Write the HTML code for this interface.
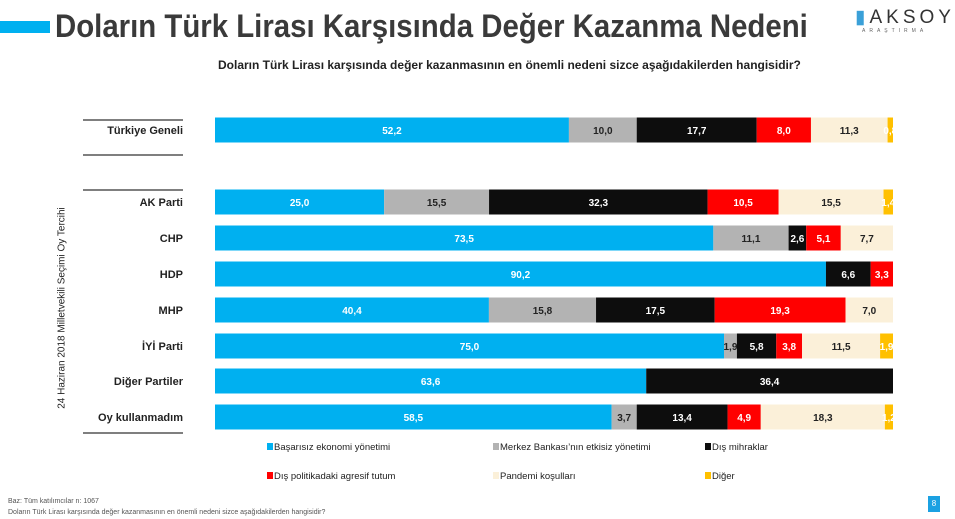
<!DOCTYPE html>
<html><head><meta charset="utf-8">
<style>
body{margin:0;width:955px;height:519px;background:#fff;position:relative;overflow:hidden;font-family:"Liberation Sans",sans-serif;}
.abs{position:absolute;}
</style></head>
<body>
<div class="abs" style="left:0;top:21px;width:50px;height:12px;background:#00b0f0"></div>
<div class="abs" id="ttl" style="left:55px;top:8px;font-size:32px;font-weight:bold;color:#3a3a3a;white-space:nowrap;transform-origin:left">Doların Türk Lirası Karşısında Değer Kazanma Nedeni</div>
<div class="abs" style="left:855px;top:6px;font-size:19px;color:#333;letter-spacing:4px"><span style="color:#3aa0d8">▮</span>AKSOY</div>
<div class="abs" style="left:862px;top:28px;font-size:5px;color:#666;letter-spacing:4px">ARAŞTIRMA</div>
<div class="abs" style="left:218px;top:58px;font-size:12px;font-weight:bold;color:#222">Doların Türk Lirası karşısında değer kazanmasının en önemli nedeni sizce aşağıdakilerden hangisidir?</div>
<div class="abs" style="left:62px;top:308px;font-size:10px;color:#222;transform:translate(-50%,-50%) rotate(-90deg);white-space:nowrap">24 Haziran 2018 Milletvekili Seçimi Oy Tercihi</div>
<svg class="abs" style="left:0;top:0" width="955" height="519" id="chart"></svg>
<div class="abs" style="left:8px;top:498px;font-size:7px;color:#555">Baz: Tüm katılımcılar n: 1067</div>
<div class="abs" style="left:8px;top:509px;font-size:7px;color:#555">Doların Türk Lirası karşısında değer kazanmasının en önemli nedeni sizce aşağıdakilerden hangisidir?</div>
<div class="abs" style="left:928px;top:496px;width:12px;height:16px;background:#1ba1e2;color:#fff;font-size:8px;text-align:center;line-height:16px">8</div>
<script>
const categories=["Türkiye Geneli","AK Parti","CHP","HDP","MHP","İYİ Parti","Diğer Partiler","Oy kullanmadım"];
const rowY=[130,202,238,274,310,346,381,417];
const seriesNames=["Başarısız ekonomi yönetimi","Merkez Bankası’nın etkisiz yönetimi","Dış mihraklar","Dış politikadaki agresif tutum","Pandemi koşulları","Diğer"];
const s1=[52.2,25.0,73.5,90.2,40.4,75.0,63.6,58.5];
const s2=[10.0,15.5,11.1,0,15.8,1.9,0,3.7];
const s3=[17.7,32.3,2.6,6.6,17.5,5.8,36.4,13.4];
const s4=[8.0,10.5,5.1,3.3,19.3,3.8,0,4.9];
const s5=[11.3,15.5,7.7,0,7.0,11.5,0,18.3];
const s6=[0.8,1.4,0,0,0,1.9,0,1.2];
const series=[s1,s2,s3,s4,s5,s6];
const colors=["#00b0f0","#b3b3b3","#0d0d0d","#ff0000","#fbf0d9","#ffc000"];
const textColors=["#fff","#222","#fff","#fff","#222","#fff"];
const ttl=document.getElementById('ttl');
ttl.style.transform='scaleX('+(753/ttl.offsetWidth)+')';
const svg=document.getElementById('chart');
const NS="http://www.w3.org/2000/svg";
const x0=215,x1=893,bh=25;
function xs(v,total){return v/total*(x1-x0);}
function mk(t,a){const e=document.createElementNS(NS,t);for(const k in a)e.setAttribute(k,a[k]);svg.appendChild(e);return e;}
[120,155,190,433].forEach((y,i)=>{
 const l=mk('line',{x1:83,x2:183,y1:y,y2:y,stroke:'#7f7f7f','stroke-width':2});
 
 
});
categories.forEach((c,i)=>{
 const y=rowY[i];
 const t=mk('text',{x:183,y:y+4,'text-anchor':'end','font-size':11,'font-weight':'bold',fill:'#222'});
 t.textContent=c;
 
 
 let total=0;series.forEach(s=>total+=s[i]);
 let x=x0;
 series.forEach((s,j)=>{
  const v=s[i];if(v<=0)return;
  const w=xs(v,total);
  const r=mk('rect',{x:x,y:y-bh/2,width:w,height:bh,fill:colors[j]});
  
  
  const lb=mk('text',{x:x+w/2,y:y+4,'text-anchor':'middle','font-size':10,'font-weight':'bold',fill:textColors[j]});
  lb.textContent=v.toFixed(1).replace('.',',');
  
  
  x+=w;
 });
});
const legX=[267,493,705],legY=[447,476];
seriesNames.forEach((n,j)=>{
 const lx=legX[j%3],ly=legY[Math.floor(j/3)];
 const r=mk('rect',{x:lx,y:ly-4,width:6,height:7,fill:colors[j]});
 
 
 const t=mk('text',{x:lx+7,y:ly+3,'font-size':9.5,fill:'#222'});
 t.textContent=n;
 
 
});
</script>
</body></html>
